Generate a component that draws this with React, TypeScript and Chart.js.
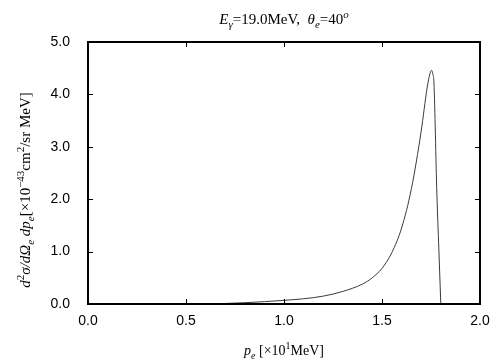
import React, { useEffect, useRef } from "react";
import { Chart, registerables } from "chart.js";

Chart.register(...registerables);

const momentum = [0.70, 0.80, 0.90, 1.00, 1.10, 1.20, 1.30, 1.40, 1.45, 1.50, 1.55, 1.60, 1.65, 1.70, 1.73, 1.745, 1.753, 1.76, 1.765, 1.78, 1.79, 1.80];
const crossSection = [0.01, 0.025, 0.045, 0.07, 0.10, 0.15, 0.24, 0.38, 0.50, 0.68, 0.98, 1.45, 2.2, 3.3, 4.12, 4.4, 4.46, 4.38, 4.22, 2.1, 1.05, 0.0];
const xTicks = [0, 0.5, 1.0, 1.5, 2.0];
const yTicks = [0, 1, 2, 3, 4, 5];

type Seg = { t: string; italic?: boolean; pos?: "sub" | "sup" };

const titleSegs: Seg[] = [
  { t: "E", italic: true },
  { t: "γ", italic: true, pos: "sub" },
  { t: "=19.0MeV,  " },
  { t: "θ", italic: true },
  { t: "e", italic: true, pos: "sub" },
  { t: "=40" },
  { t: "o", italic: true, pos: "sup" },
];
const xTitleSegs: Seg[] = [
  { t: "p", italic: true },
  { t: "e", italic: true, pos: "sub" },
  { t: " [×10" },
  { t: "1", pos: "sup" },
  { t: "MeV]" },
];
const yTitleSegs: Seg[] = [
  { t: "d", italic: true },
  { t: "2", pos: "sup" },
  { t: "σ/dΩ", italic: true },
  { t: "e", italic: true, pos: "sub" },
  { t: " dp", italic: true },
  { t: "e", italic: true, pos: "sub" },
  { t: "[×10" },
  { t: "−43", pos: "sup" },
  { t: "cm" },
  { t: "2", pos: "sup" },
  { t: "/sr MeV]" },
];

const FAMILY = '"Liberation Serif", "Times New Roman", serif';

function fontFor(s: Seg, size: number) {
  const sz = s.pos ? Math.round(size * 0.72) : size;
  return `${s.italic ? "italic " : ""}${sz}px ${FAMILY}`;
}

function drawRich(ctx: CanvasRenderingContext2D, segs: Seg[], cx: number, cy: number, size: number) {
  let total = 0;
  const widths = segs.map((s) => {
    ctx.font = fontFor(s, size);
    const w = ctx.measureText(s.t).width;
    total += w;
    return w;
  });
  let x = cx - total / 2;
  ctx.textAlign = "left";
  ctx.textBaseline = "alphabetic";
  segs.forEach((s, i) => {
    ctx.font = fontFor(s, size);
    let dy = 0;
    if (s.pos === "sub") dy = size * 0.25;
    if (s.pos === "sup") dy = -size * 0.4;
    ctx.fillText(s.t, x, cy + dy);
    x += widths[i];
  });
}

const framePlugin = {
  id: "frameAndLabels",
  afterDraw(chart: any) {
    const ctx: CanvasRenderingContext2D = chart.ctx;
    const { left, right, top, bottom } = chart.chartArea;
    const xs = chart.scales.x;
    const ys = chart.scales.y;
    ctx.save();
    ctx.strokeStyle = "#000";
    ctx.lineWidth = 1;
    const tl = 5;
    ctx.beginPath();
    xTicks.forEach((v) => {
      const px = Math.round(xs.getPixelForValue(v)) + 0.5;
      ctx.moveTo(px, bottom);
      ctx.lineTo(px, bottom - tl);
      ctx.moveTo(px, top);
      ctx.lineTo(px, top + tl);
    });
    yTicks.forEach((v) => {
      const py = Math.round(ys.getPixelForValue(v)) + 0.5;
      ctx.moveTo(left, py);
      ctx.lineTo(left + tl, py);
      ctx.moveTo(right, py);
      ctx.lineTo(right - tl, py);
    });
    ctx.stroke();
    ctx.lineWidth = 2;
    ctx.strokeRect(left, top, right - left, bottom - top);

    ctx.fillStyle = "#000";
    drawRich(ctx, titleSegs, 284, 24, 15);
    drawRich(ctx, xTitleSegs, 284, 355, 14);
    ctx.translate(30, 190);
    ctx.rotate(-Math.PI / 2);
    drawRich(ctx, yTitleSegs, 0, 0, 15);
    ctx.restore();
  },
};

export default function App() {
  const ref = useRef<HTMLCanvasElement | null>(null);
  useEffect(() => {
    if (!ref.current) return;
    const chart = new Chart(ref.current, {
      type: "line",
      data: {
        datasets: [
          {
            data: momentum.map((p, i) => ({ x: p, y: crossSection[i] })),
            borderColor: "#3a3a3a",
            borderWidth: 1,
            pointRadius: 0,
            cubicInterpolationMode: "monotone",
            fill: false,
          },
        ],
      },
      options: {
        animation: false,
        responsive: false,
        maintainAspectRatio: false,
        layout: { padding: { top: 42, right: 24, left: 0, bottom: 0 } },
        plugins: { legend: { display: false }, title: { display: false }, tooltip: { enabled: false } },
        scales: {
          x: {
            type: "linear",
            min: 0,
            max: 2,
            afterFit: (s: any) => { s.height = 56; },
            grid: { display: false, drawTicks: false },
            border: { display: false },
            afterBuildTicks: (s: any) => { s.ticks = xTicks.map((v) => ({ value: v })); },
            ticks: {
              padding: 9,
              color: "#000",
              font: { family: '"Liberation Sans", Arial, sans-serif', size: 14 },
              callback: (v: any) => Number(v).toFixed(1),
              maxRotation: 0,
            },
          },
          y: {
            type: "linear",
            min: 0,
            max: 5,
            afterFit: (s: any) => { s.width = 88; },
            grid: { display: false, drawTicks: false },
            border: { display: false },
            afterBuildTicks: (s: any) => { s.ticks = yTicks.map((v) => ({ value: v })); },
            ticks: {
              padding: 18,
              color: "#000",
              font: { family: '"Liberation Sans", Arial, sans-serif', size: 14 },
              callback: (v: any) => Number(v).toFixed(1),
            },
          },
        },
      },
      plugins: [framePlugin],
    });
    return () => chart.destroy();
  }, []);
  return (
    <div style={{ position: "fixed", left: 0, top: 0, width: 504, height: 360, background: "#fff" }}>
      <canvas ref={ref} width={504} height={360} style={{ width: 504, height: 360 }} />
    </div>
  );
}
